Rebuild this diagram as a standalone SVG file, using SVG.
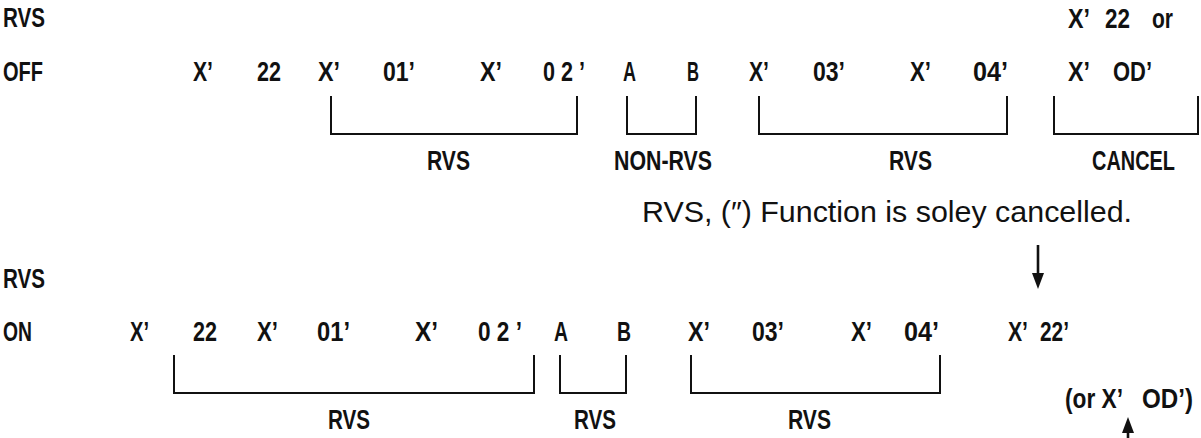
<svg xmlns="http://www.w3.org/2000/svg" width="1201" height="438" viewBox="0 0 1201 438">
<style>
.b{font-family:"Liberation Sans","Arial",sans-serif;font-weight:bold;font-size:27px;fill:#111}
.r{font-family:"Liberation Sans","Arial",sans-serif;font-size:30px;fill:#111}
.br{fill:none;stroke:#111;stroke-width:2}
.ar{fill:none;stroke:#111;stroke-width:2.6}
</style>
<defs>
<marker id="ah" viewBox="0 0 16 12" refX="10" refY="6" markerWidth="16" markerHeight="12" markerUnits="userSpaceOnUse" orient="auto">
<path d="M0,0 L16,6 L0,12 z" fill="#111"/>
</marker>
</defs>
<rect width="1201" height="438" fill="#fff"/>
<g id="row-labels" class="b">
<text x="3" y="27" textLength="42" lengthAdjust="spacingAndGlyphs">RVS</text>
<text x="3" y="81" textLength="40" lengthAdjust="spacingAndGlyphs">OFF</text>
<text x="3" y="288" textLength="42" lengthAdjust="spacingAndGlyphs">RVS</text>
<text x="3" y="341" textLength="29" lengthAdjust="spacingAndGlyphs">ON</text>
</g>
<g id="off-sequence" class="b">
<text x="193" y="81" textLength="20" lengthAdjust="spacingAndGlyphs">X’</text>
<text x="257" y="81" textLength="24" lengthAdjust="spacingAndGlyphs">22</text>
<text x="318" y="81" textLength="22" lengthAdjust="spacingAndGlyphs">X’</text>
<text x="383" y="81" textLength="32" lengthAdjust="spacingAndGlyphs">01’</text>
<text x="480" y="81" textLength="22" lengthAdjust="spacingAndGlyphs">X’</text>
<text x="543" y="81" textLength="42" lengthAdjust="spacingAndGlyphs">0 2 ’</text>
<text x="623" y="81" textLength="13" lengthAdjust="spacingAndGlyphs">A</text>
<text x="687" y="81" textLength="12" lengthAdjust="spacingAndGlyphs">B</text>
<text x="749" y="81" textLength="20" lengthAdjust="spacingAndGlyphs">X’</text>
<text x="813" y="81" textLength="32" lengthAdjust="spacingAndGlyphs">03’</text>
<text x="910" y="81" textLength="21" lengthAdjust="spacingAndGlyphs">X’</text>
<text x="973" y="81" textLength="35" lengthAdjust="spacingAndGlyphs">04’</text>
<text x="1068" y="81" textLength="22" lengthAdjust="spacingAndGlyphs">X’</text>
<text x="1113" y="81" textLength="39" lengthAdjust="spacingAndGlyphs">OD’</text>
<text x="1068" y="28" textLength="22" lengthAdjust="spacingAndGlyphs">X’</text>
<text x="1105" y="28" textLength="25" lengthAdjust="spacingAndGlyphs">22</text>
<text x="1152" y="28" textLength="21" lengthAdjust="spacingAndGlyphs">or</text>
</g>
<g id="off-groups">
<path class="br" d="M331,96 V134 H577 V96"/>
<path class="br" d="M627,96 V134 H696 V96"/>
<path class="br" d="M759,96 V134 H1007 V96"/>
<path class="br" d="M1054,96 V134 H1198 V96"/>
<g class="b">
<text x="427" y="170" textLength="43" lengthAdjust="spacingAndGlyphs">RVS</text>
<text x="614" y="170" textLength="98" lengthAdjust="spacingAndGlyphs">NON-RVS</text>
<text x="889" y="170" textLength="43" lengthAdjust="spacingAndGlyphs">RVS</text>
<text x="1092" y="170" textLength="83" lengthAdjust="spacingAndGlyphs">CANCEL</text>
</g>
</g>
<g id="note">
<text class="r" x="642" y="222" textLength="490" lengthAdjust="spacingAndGlyphs">RVS, (″) Function is soley cancelled.</text>
</g>
<g id="on-sequence" class="b">
<text x="130" y="341" textLength="19" lengthAdjust="spacingAndGlyphs">X’</text>
<text x="193" y="341" textLength="24" lengthAdjust="spacingAndGlyphs">22</text>
<text x="257" y="341" textLength="21" lengthAdjust="spacingAndGlyphs">X’</text>
<text x="317" y="341" textLength="33" lengthAdjust="spacingAndGlyphs">01’</text>
<text x="415" y="341" textLength="23" lengthAdjust="spacingAndGlyphs">X’</text>
<text x="478" y="341" textLength="44" lengthAdjust="spacingAndGlyphs">0 2 ’</text>
<text x="554" y="341" textLength="14" lengthAdjust="spacingAndGlyphs">A</text>
<text x="617" y="341" textLength="14" lengthAdjust="spacingAndGlyphs">B</text>
<text x="688" y="341" textLength="22" lengthAdjust="spacingAndGlyphs">X’</text>
<text x="752" y="341" textLength="32" lengthAdjust="spacingAndGlyphs">03’</text>
<text x="851" y="341" textLength="21" lengthAdjust="spacingAndGlyphs">X’</text>
<text x="904" y="341" textLength="35" lengthAdjust="spacingAndGlyphs">04’</text>
<text x="1008" y="341" textLength="20" lengthAdjust="spacingAndGlyphs">X’</text>
<text x="1040" y="341" textLength="29" lengthAdjust="spacingAndGlyphs">22’</text>
<text x="1065" y="408" textLength="58" lengthAdjust="spacingAndGlyphs">(or X’</text>
<text x="1142" y="408" textLength="51" lengthAdjust="spacingAndGlyphs">OD’)</text>
</g>
<g id="on-groups">
<path class="br" d="M174,355 V393 H534 V355"/>
<path class="br" d="M560,355 V393 H626 V355"/>
<path class="br" d="M691,355 V393 H940 V355"/>
<g class="b">
<text x="328" y="429" textLength="42" lengthAdjust="spacingAndGlyphs">RVS</text>
<text x="574" y="429" textLength="42" lengthAdjust="spacingAndGlyphs">RVS</text>
<text x="788" y="429" textLength="43" lengthAdjust="spacingAndGlyphs">RVS</text>
</g>
</g>
<g id="connectors">
<line class="ar" x1="1038" y1="245" x2="1038" y2="283" marker-end="url(#ah)"/>
<line class="ar" x1="1128" y1="438" x2="1128" y2="423" marker-end="url(#ah)"/>
</g>
</svg>
